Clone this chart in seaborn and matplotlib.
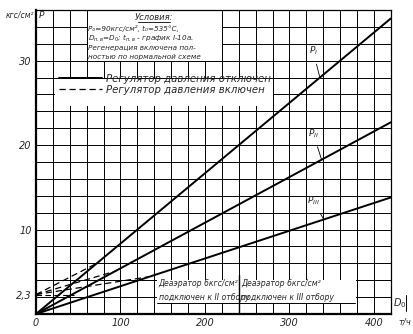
import matplotlib
matplotlib.use("Agg")
import matplotlib.pyplot as plt
import seaborn as sns
import pandas as pd
import numpy as np
from matplotlib.patches import Rectangle
from matplotlib.lines import Line2D

sns.set_theme(style="white")
plt.rcParams['font.family'] = ['DejaVu Sans']
plt.rcParams['mathtext.fontset'] = 'dejavusans'

# --- data ---
D0 = [0, 420]
P1 = [0, 35.0]
P2 = [0, 22.7]
P3 = [0, 13.8]
# regulator on (dashed) – from 2.3 at D0=0 up to joining solid lines
P1_on_x = [0, 72]
P1_on = [2.3, 6.0]
P2_on_x = [0, 95]
P2_on = [2.3, 5.1]
P3_on_x = [0, 133]
P3_on = [2.3, 4.4]

xticks = [0, 100, 200, 300, 400]
xticklabels = ["0", "100", "200", "300", "400"]
yticks = [2.3, 10, 20, 30]
yticklabels = ["2,3", "10", "20", "30"]

fig = plt.figure(figsize=(4.14, 3.34), dpi=100)
ax = fig.add_axes([0.087, 0.06, 0.857, 0.91])
ax.set_xlim(0, 420)
ax.set_ylim(0, 36)

# grid
for gx in np.arange(20, 420, 20):
    ax.axvline(gx, color='black', lw=0.7, zorder=1)
for gy in np.arange(2, 36, 2):
    ax.axhline(gy, color='black', lw=0.7, zorder=1)

# white areas (boxes over grid)
ax.add_patch(Rectangle((60, 30), 160, 6, facecolor='white', edgecolor='black', lw=0.7, zorder=2))
ax.add_patch(Rectangle((22, 24.6), 258, 3.2, facecolor='white', edgecolor='none', zorder=2))
ax.add_patch(Rectangle((143, 1.25), 236, 2.75, facecolor='white', edgecolor='none', zorder=2))

# solid lines
for y in (P1, P2, P3):
    sns.lineplot(x=D0, y=y, ax=ax, color='black', lw=1.4, zorder=4, legend=False)
# dashed lines
for xx, yy in ((P1_on_x, P1_on), (P2_on_x, P2_on), (P3_on_x, P3_on)):
    sns.lineplot(x=xx, y=yy, ax=ax, color='black', lw=0.9, zorder=4, legend=False)
    ax.lines[-1].set_dashes([5, 3])
ax.plot([0, 45], [2.3, 2.3], color='black', lw=0.8, dashes=[5, 3], zorder=4)

# ticks
ax.set_xticks(xticks)
ax.set_xticklabels(xticklabels, fontsize=7, style='italic')
ax.set_yticks(yticks)
ax.set_yticklabels(yticklabels, fontsize=7, style='italic')
ax.tick_params(length=0, pad=3)
ax.set_xlabel(""); ax.set_ylabel("")
for s in ['left', 'bottom']:
    ax.spines[s].set_linewidth(1.6)
for s in ['top', 'right']:
    ax.spines[s].set_linewidth(0.9)
for s in ax.spines.values():
    s.set_color('black')
    s.set_zorder(5)

# axis texts
fig.text(20 / 414, 1 - 15 / 334, "кгс/см²", fontsize=5.5, style='italic', ha='center', va='center')
ax.text(3, 35.3, "P", fontsize=6.5, style='italic', ha='left', va='center', zorder=6)
fig.text(405 / 414, 1 - 322 / 334, "т/ч", fontsize=6, style='italic', ha='center', va='center')
ax.text(431, 1.3, "$D_0$", fontsize=7, ha='center', va='center', zorder=6, clip_on=False)
ax.plot([438, 438], [0.3, 2.3], color='black', lw=0.7, clip_on=False)

# conditions
ax.text(140, 35.15, "Условия:", fontsize=6.0, style='italic', ha='center', va='center', zorder=6)
ax.plot([121, 159], [34.6, 34.6], color='black', lw=0.6, zorder=6)
cond = ["P₀=90кгс/см², t₀=535°С,",
        "$D_{п.в}$=$D_0$; $t_{п.в}$ - график I-10а.",
        "Регенерация включена пол-",
        "ностью по нормальной схеме"]
cond_y = [33.85, 32.65, 31.5, 30.45]
for t, yy in zip(cond, cond_y):
    ax.text(62, yy, t, fontsize=5.2, style='italic', ha='left', va='center', zorder=6)

# legend
h1 = Line2D([], [], color='black', lw=1.4)
h2 = Line2D([], [], color='black', lw=0.9, dashes=[5, 3])
leg = ax.legend([h1, h2], ["Регулятор давления отключен", "Регулятор давления включен"],
                loc='upper left', bbox_to_anchor=(0.065, 0.79), frameon=False,
                handlelength=4.2, handletextpad=0.4, labelspacing=0.1,
                prop={'size': 7.3, 'style': 'italic'}, borderaxespad=0, borderpad=0)
leg.set_zorder(7)

# line labels with leaders
for txt, lx, ly, px, py in (("$P_I$", 328, 31.2, 336, 28.0),
                            ("$P_{II}$", 328, 21.4, 338, 18.3),
                            ("$P_{III}$", 328, 13.4, 340, 11.3)):
    ax.annotate(txt, xy=(px, py), xytext=(lx, ly), fontsize=6.5, ha='center', va='center',
                arrowprops=dict(arrowstyle='-', color='black', lw=0.6, shrinkA=3, shrinkB=0),
                zorder=6)

# deaerator annotation
ax.text(145, 3.55, "Деаэратор 6кгс/см²", fontsize=5.6, style='italic', ha='left', va='center', zorder=6)
ax.text(145, 2.0, "подключен к II отбору", fontsize=5.6, style='italic', ha='left', va='center', zorder=6)
ax.text(243, 3.55, "Деаэратор 6кгс/см²", fontsize=5.6, style='italic', ha='left', va='center', zorder=6)
ax.text(243, 2.0, "подключен к III отбору", fontsize=5.6, style='italic', ha='left', va='center', zorder=6)
ax.plot([143, 378], [1.25, 1.25], color='black', lw=0.7, zorder=6)
ax.plot([240, 240], [0, 4.6], color='black', lw=1.0, zorder=6)

fig.savefig("out.png", dpi=100)
